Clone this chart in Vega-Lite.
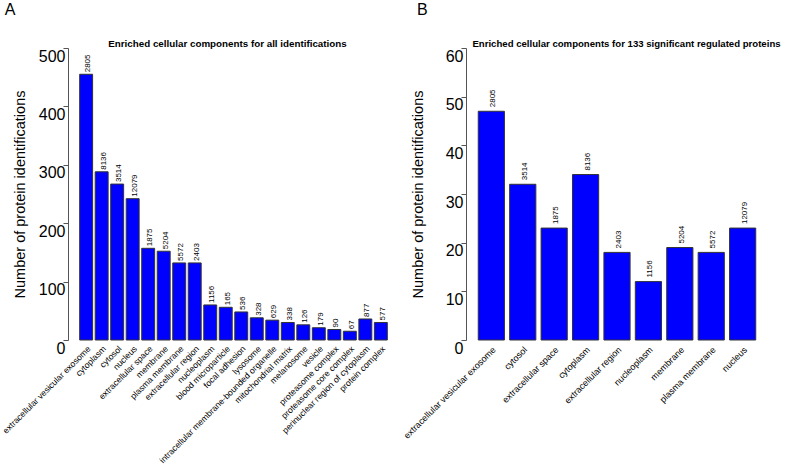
{
  "$schema": "https://vega.github.io/schema/vega-lite/v6.json",
  "padding": {"left": 0, "top": 2, "right": 0, "bottom": 0},
  "background": "white",
  "spacing": 3,
  "config": {
    "view": {"stroke": null},
    "font": "Liberation Sans",
    "axis": {"grid": false, "labelColor": "black", "titleColor": "black", "domainColor": "#555", "tickColor": "#555"}
  },
  "datasets": {
    "all": [
      {"term": "extracellular vesicular exosome", "n": 455, "size": 2805},
      {"term": "cytoplasm", "n": 288, "size": 8136},
      {"term": "cytosol", "n": 267, "size": 3514},
      {"term": "nucleus", "n": 242, "size": 12079},
      {"term": "extracellular space", "n": 157, "size": 1875},
      {"term": "membrane", "n": 152, "size": 5204},
      {"term": "plasma membrane", "n": 132, "size": 5572},
      {"term": "extracellular region", "n": 132, "size": 2403},
      {"term": "nucleoplasm", "n": 60, "size": 1156},
      {"term": "blood microparticle", "n": 56, "size": 165},
      {"term": "focal adhesion", "n": 48, "size": 536},
      {"term": "lysosome", "n": 38, "size": 328},
      {"term": "intracellular membrane-bounded organelle", "n": 34, "size": 629},
      {"term": "mitochondrial matrix", "n": 30, "size": 338},
      {"term": "melanosome", "n": 26, "size": 126},
      {"term": "vesicle", "n": 21, "size": 179},
      {"term": "proteasome complex", "n": 18, "size": 90},
      {"term": "proteasome core complex", "n": 15, "size": 67},
      {"term": "perinuclear region of cytoplasm", "n": 36, "size": 877},
      {"term": "protein complex", "n": 30, "size": 577}
    ],
    "sig": [
      {"term": "extracellular vesicular exosome", "n": 47, "size": 2805},
      {"term": "cytosol", "n": 32, "size": 3514},
      {"term": "extracellular space", "n": 23, "size": 1875},
      {"term": "cytoplasm", "n": 34, "size": 8136},
      {"term": "extracellular region", "n": 18, "size": 2403},
      {"term": "nucleoplasm", "n": 12, "size": 1156},
      {"term": "membrane", "n": 19, "size": 5204},
      {"term": "plasma membrane", "n": 18, "size": 5572},
      {"term": "nucleus", "n": 23, "size": 12079}
    ]
  },
  "hconcat": [
    {
      "title": {"text": "A", "anchor": "start", "frame": "bounds", "fontSize": 16, "fontWeight": "normal", "offset": 20, "dx": 4, "color": "black"},
      "width": 331,
      "height": 292,
      "data": {"name": "all"},
      "encoding": {
        "y": {"field": "n", "type": "quantitative", "scale": {"domain": [0, 500], "nice": false},
          "axis": {"title": "Number of protein identifications", "values": [0, 100, 200, 300, 400, 500], "labelFontSize": 16, "labelBaseline": "top", "labelPadding": -2, "tickSize": 5, "titleFontSize": 14.5, "titleFontWeight": "normal", "titlePadding": 11}}
      },
      "layer": [
        {
          "mark": {"type": "bar", "fill": "#0000ff", "stroke": "#333", "strokeWidth": 1},
          "encoding": {
            "x": {"field": "term", "type": "nominal", "sort": null, "scale": {"paddingInner": 0.1667, "paddingOuter": 0.753},
              "axis": {"title": null, "labelAngle": -45, "labelFontSize": 8.6, "ticks": false, "domain": false, "labelPadding": 4, "labelLimit": 400, "labelOverlap": false}}
          }
        },
        {
          "mark": {"type": "text", "angle": 270, "align": "left", "baseline": "middle", "dx": 2, "dy": 2, "fontSize": 8, "color": "black"},
          "encoding": {
            "x": {"field": "term", "type": "nominal", "sort": null, "scale": {"paddingInner": 0.1667, "paddingOuter": 0.753},
              "axis": {"orient": "top", "title": "Enriched cellular components for all identifications", "labels": false, "ticks": false, "domain": false, "titleFontSize": 9.8, "titleFontWeight": "bold", "titlePadding": 0, "titleX": 159}},
            "text": {"field": "size", "type": "nominal"}
          }
        }
      ],
      "resolve": {"axis": {"x": "independent"}}
    },
    {
      "title": {"text": "B", "anchor": "start", "frame": "bounds", "fontSize": 16, "fontWeight": "normal", "offset": 20, "dx": 15, "color": "black"},
      "width": 302,
      "height": 292,
      "data": {"name": "sig"},
      "encoding": {
        "y": {"field": "n", "type": "quantitative", "scale": {"domain": [0, 60], "nice": false},
          "axis": {"title": "Number of protein identifications", "values": [0, 10, 20, 30, 40, 50, 60], "labelFontSize": 16, "labelBaseline": "top", "labelPadding": -2, "tickSize": 5, "titleFontSize": 14.5, "titleFontWeight": "normal", "titlePadding": 20}}
      },
      "layer": [
        {
          "mark": {"type": "bar", "fill": "#0000ff", "stroke": "#333", "strokeWidth": 1},
          "encoding": {
            "x": {"field": "term", "type": "nominal", "sort": null, "scale": {"paddingInner": 0.1667, "paddingOuter": 0.39},
              "axis": {"title": null, "labelAngle": -45, "labelFontSize": 9, "ticks": false, "domain": false, "labelPadding": 5, "labelLimit": 400, "labelOverlap": false}}
          }
        },
        {
          "mark": {"type": "text", "angle": 270, "align": "left", "baseline": "middle", "dx": 4, "dy": 2, "fontSize": 8, "color": "black"},
          "encoding": {
            "x": {"field": "term", "type": "nominal", "sort": null, "scale": {"paddingInner": 0.1667, "paddingOuter": 0.39},
              "axis": {"orient": "top", "title": "Enriched cellular components for 133 significant regulated proteins", "labels": false, "ticks": false, "domain": false, "titleFontSize": 9.6, "titleFontWeight": "bold", "titlePadding": 0, "titleX": 160}},
            "text": {"field": "size", "type": "nominal"}
          }
        }
      ],
      "resolve": {"axis": {"x": "independent"}}
    }
  ]
}
